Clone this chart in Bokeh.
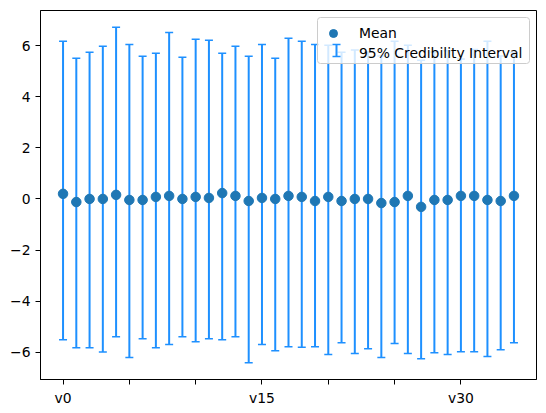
from bokeh.plotting import figure
from bokeh.models import (Range1d, FixedTicker, Legend, LegendItem, Arrow, TeeHead,
                          ColumnDataSource, BoxAnnotation)
from bokeh.embed import file_html
from bokeh.resources import INLINE

# ---- data ----
names = [f"v{i}" for i in range(35)]
means = [0.20, -0.12, 0.00, 0.00, 0.16, -0.04, -0.04, 0.08, 0.12, 0.00,
         0.08, 0.04, 0.23, 0.12, -0.08, 0.04, 0.00, 0.12, 0.08, -0.08,
         0.08, -0.08, 0.00, 0.00, -0.16, -0.12, 0.12, -0.31, -0.04, -0.04,
         0.12, 0.12, -0.04, -0.08, 0.12]
upper = [6.17, 5.51, 5.74, 5.98, 6.72, 6.05, 5.59, 5.70, 6.52, 5.55,
         6.25, 6.21, 5.70, 5.98, 5.59, 6.05, 5.51, 6.29, 6.17, 6.05,
         6.02, 5.74, 5.83, 5.75, 5.60, 6.17, 6.02, 5.43, 5.75, 5.80,
         5.48, 5.85, 6.17, 5.60, 5.73]
lower = [-5.51, -5.82, -5.82, -5.99, -5.39, -6.21, -5.47, -5.82, -5.70, -5.39,
         -5.59, -5.47, -5.51, -5.39, -6.41, -5.70, -5.94, -5.78, -5.80, -5.78,
         -6.09, -5.63, -6.05, -5.86, -6.21, -5.66, -6.05, -6.25, -6.02, -6.09,
         -5.98, -5.98, -6.17, -5.90, -5.63]
x_ticks = [0, 5, 10, 15, 20, 25, 30]
x_labeled = [0, 15, 30]
y_ticks = [-6, -4, -2, 0, 2, 4, 6]

xs = list(range(len(names)))

# matplotlib-like 5% margins
xpad = 0.05 * (xs[-1] - xs[0])
ylo, yhi = min(lower), max(upper)
ypad = 0.05 * (yhi - ylo)

BAR = "#1e90ff"
DOT = "#1f77b4"
FONT = "DejaVu Sans"
FS = "13.9px"

p = figure(output_backend="svg", toolbar_location=None,
           frame_width=496, frame_height=369,
           min_border_left=40, min_border_right=8, min_border_top=10, min_border_bottom=32,
           x_range=Range1d(xs[0] - xpad, xs[-1] + xpad),
           y_range=Range1d(ylo - ypad, yhi + ypad))
p.grid.visible = False
p.outline_line_color = "black"
p.outline_line_width = 1
p.background_fill_color = "white"
p.border_fill_color = "white"

p.segment(x0=xs, y0=lower, x1=xs, y1=upper, line_color=BAR, line_width=2)
p.scatter(x=xs, y=upper, marker="dash", size=8, line_color=BAR, line_width=1.5)
p.scatter(x=xs, y=lower, marker="dash", size=8, line_color=BAR, line_width=1.5)
dots = p.scatter(x=xs, y=means, marker="circle", size=9.5, fill_color=DOT, line_color=DOT)
dummy = p.scatter(x=[], y=[], size=0, fill_alpha=0, line_alpha=0)

p.xaxis.ticker = FixedTicker(ticks=x_ticks)
p.xaxis.major_label_overrides = {t: (names[t] if t in x_labeled else "") for t in x_ticks}
p.yaxis.ticker = FixedTicker(ticks=y_ticks)
p.yaxis.major_label_overrides = {t: str(t).replace("-", "\u2212") for t in y_ticks}
for ax in (p.xaxis, p.yaxis):
    ax.minor_tick_line_color = None
    ax.major_tick_out = 5
    ax.major_tick_in = 0
    ax.major_tick_line_color = "black"
    ax.axis_line_color = "black"
    ax.major_label_text_font = FONT
    ax.major_label_text_font_size = FS
    ax.major_label_text_color = "black"
    ax.major_label_standoff = 5

# legend layout (screen px, relative to the frame's bottom-left)
LX, LY, PAD, GW, GH, LW = 277, 316, 3, 32, 20, 212

# legend background box (drawn beneath the legend symbols)
box = BoxAnnotation(left=LX, right=LX + LW, bottom=LY, top=LY + 2 * PAD + 2 * GH,
                    left_units="screen", right_units="screen",
                    bottom_units="screen", top_units="screen",
                    fill_color="white", fill_alpha=0.8,
                    line_color="#cccccc", line_width=1, line_alpha=1.0,
                    border_radius=3, level="annotation")
p.add_layout(box)

legend = Legend(items=[LegendItem(label="Mean", renderers=[dots]),
                       LegendItem(label="95% Credibility Interval", renderers=[dummy])],
                location=(LX, LY), padding=PAD, spacing=0, margin=0,
                glyph_width=GW, glyph_height=GH, label_height=GH, label_standoff=10,
                label_text_font=FONT, label_text_font_size=FS, label_text_color="black",
                border_line_color=None, background_fill_alpha=0)
p.add_layout(legend)

cx = LX + PAD + GW / 2
cy = LY + PAD + GH / 2
ib_src = ColumnDataSource(dict(x0=[cx], y0=[cy - 6], x1=[cx], y1=[cy + 6]))
ibeam = Arrow(start=TeeHead(size=8, line_color=BAR, line_width=1.5),
              end=TeeHead(size=8, line_color=BAR, line_width=1.5),
              x_start="x0", y_start="y0", x_end="x1", y_end="y1", source=ib_src,
              start_units="screen", end_units="screen",
              line_color=BAR, line_width=2, level="overlay")
p.add_layout(ibeam)

open("out.html", "w").write(file_html(p, INLINE))
